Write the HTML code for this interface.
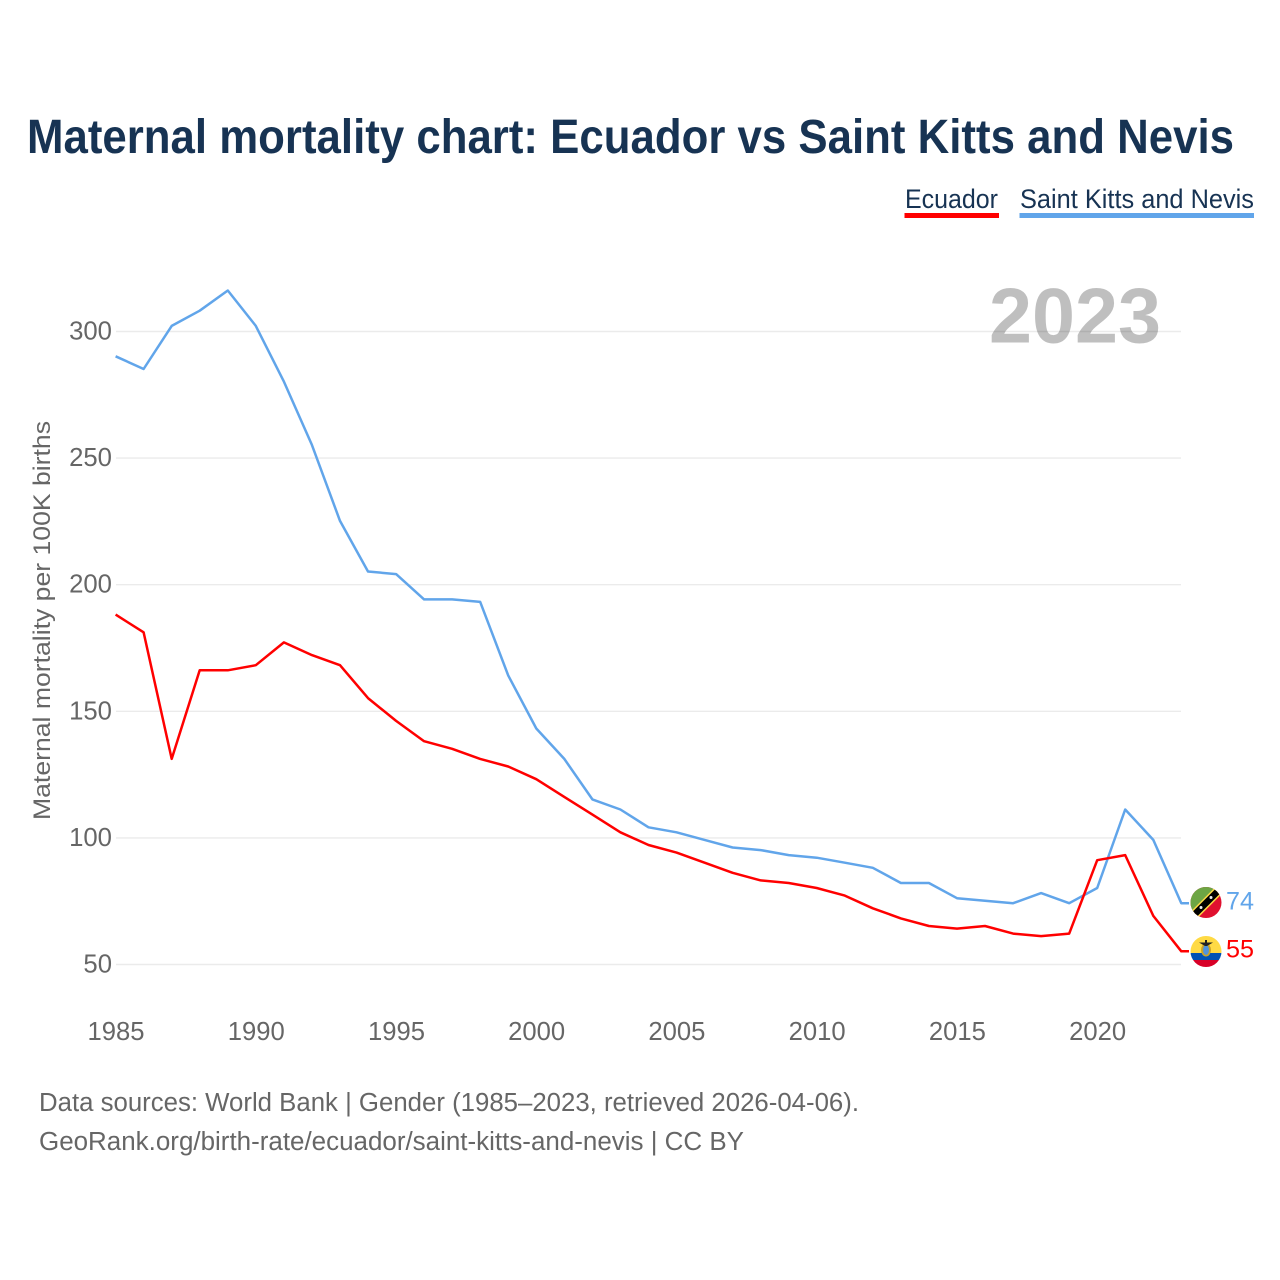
<!DOCTYPE html>
<html lang="en">
<head>
<meta charset="utf-8">
<title>Maternal mortality chart: Ecuador vs Saint Kitts and Nevis</title>
<style>
html,body{margin:0;padding:0;background:#fff;width:1280px;height:1280px;overflow:hidden}
svg{display:block}
text{font-family:"Liberation Sans",sans-serif}
</style>
</head>
<body>
<svg id="chart" xmlns="http://www.w3.org/2000/svg" width="1280" height="1280" viewBox="0 0 1280 1280">
  <rect width="1280" height="1280" fill="#fff"/>
  <text x="27" y="153" font-size="48" font-weight="700" fill="#173353" textLength="1207" lengthAdjust="spacingAndGlyphs">Maternal mortality chart: Ecuador vs Saint Kitts and Nevis</text>

  <g>
    <g>
      <text x="905" y="208" font-size="26.5" fill="#173353" textLength="93" lengthAdjust="spacingAndGlyphs">Ecuador</text>
      <rect x="904.5" y="213" width="94.5" height="5" fill="#ff0000"/>
    </g>
    <g>
      <text x="1020" y="208" font-size="26.5" fill="#173353" textLength="234" lengthAdjust="spacingAndGlyphs">Saint Kitts and Nevis</text>
      <rect x="1019.5" y="213" width="234.5" height="5" fill="#61a5ea"/>
    </g>
  </g>

  <g id="grid"></g>
  <g id="yticks"></g>
  <g id="xticks"></g>
  <text transform="translate(50,620.5) rotate(-90)" text-anchor="middle" font-size="24.5" fill="#666666" textLength="399" lengthAdjust="spacingAndGlyphs">Maternal mortality per 100K births</text>
  <g id="series"></g>

  <text x="989" y="342.5" font-size="78" font-weight="700" fill="#000" fill-opacity="0.25" textLength="172" lengthAdjust="spacingAndGlyphs">2023</text>

  <defs>
    <clipPath id="clip-kn"><circle cx="1206" cy="902.5" r="15.5"/></clipPath>
    <clipPath id="clip-ec"><circle cx="1206" cy="951.5" r="15.5"/></clipPath>
  </defs>
  <g clip-path="url(#clip-kn)">
    <rect x="1190" y="887" width="32" height="32" fill="#e0102f"/>
    <polygon points="1190,887 1222,887 1190,919" fill="#6da544"/>
    <line x1="1188" y1="921" x2="1224" y2="885" stroke="#ffda44" stroke-width="9.5"/>
    <line x1="1188" y1="921" x2="1224" y2="885" stroke="#000" stroke-width="6.5"/>
    <circle cx="1201" cy="907.5" r="1.5" fill="#eee"/>
    <circle cx="1211" cy="897.5" r="1.5" fill="#eee"/>
  </g>
  <g clip-path="url(#clip-ec)">
    <rect x="1190" y="936" width="32" height="17" fill="#ffda44"/>
    <rect x="1190" y="953" width="32" height="7" fill="#0052b4"/>
    <rect x="1190" y="960" width="32" height="8" fill="#d80027"/>
    <ellipse cx="1206" cy="950" rx="5" ry="6.5" fill="#c9a227"/>
    <ellipse cx="1206" cy="950" rx="3" ry="5" fill="#4f93dd"/>
    <polygon points="1199,942.5 1213,942.5 1207,946 1205,946" fill="#222"/>
    <rect x="1205" y="940" width="2" height="4" fill="#222"/>
  </g>
  <text id="label-kn" x="1226" y="909.5" font-size="25" fill="#61a5ea" textLength="28" lengthAdjust="spacingAndGlyphs"></text>
  <text id="label-ec" x="1226" y="957.5" font-size="25" fill="#ff0000" textLength="28" lengthAdjust="spacingAndGlyphs"></text>

  <text x="39" y="1111" font-size="25.5" fill="#666666" textLength="820" lengthAdjust="spacingAndGlyphs">Data sources: World Bank | Gender (1985–2023, retrieved 2026-04-06).</text>
  <text x="39" y="1150" font-size="25.5" fill="#666666" textLength="705" lengthAdjust="spacingAndGlyphs">GeoRank.org/birth-rate/ecuador/saint-kitts-and-nevis | CC BY</text>
</svg>
<script>
var years = [1985,1986,1987,1988,1989,1990,1991,1992,1993,1994,1995,1996,1997,1998,1999,2000,2001,2002,2003,2004,2005,2006,2007,2008,2009,2010,2011,2012,2013,2014,2015,2016,2017,2018,2019,2020,2021,2022,2023];
var ecuadorValues = [188,181,131,166,166,168,177,172,168,155,146,138,135,131,128,123,116,109,102,97,94,90,86,83,82,80,77,72,68,65,64,65,62,61,62,91,93,69,55];
var kittsValues = [290,285,302,308,316,302,280,255,225,205,204,194,194,193,164,143,131,115,111,104,102,99,96,95,93,92,90,88,82,82,76,75,74,78,74,80,111,99,74];
var yTickValues = [50,100,150,200,250,300];
var xTickValues = [1985,1990,1995,2000,2005,2010,2015,2020];

var NS = 'http://www.w3.org/2000/svg';
function xScale(year){ return 115.6 + (year - 1985) * (1097.2 - 115.6) / 35; }
function yScale(value){ return 964.5 - (value - 50) * (964.5 - 331.5) / 250; }
function make(tag, attrs, parent){
  var el = document.createElementNS(NS, tag);
  for (var k in attrs) el.setAttribute(k, attrs[k]);
  parent.appendChild(el);
  return el;
}

var grid = document.getElementById('grid');
var yticks = document.getElementById('yticks');
yTickValues.forEach(function(v){
  var line = make('line', {x1:116, x2:1181, y1:yScale(v), y2:yScale(v), stroke:'#ebebeb', 'stroke-width':1.4}, grid);
  
  
  var s = String(v);
  var t = make('text', {x:112, y:yScale(v)+8, 'text-anchor':'end', 'font-size':26, fill:'#666666', textLength:s.length*14.3, lengthAdjust:'spacingAndGlyphs'}, yticks);
  
  
  t.textContent = s;
});

var xticks = document.getElementById('xticks');
xTickValues.forEach(function(v){
  var t = make('text', {x:xScale(v)+0.4, y:1040, 'text-anchor':'middle', 'font-size':26, fill:'#666666', textLength:57, lengthAdjust:'spacingAndGlyphs'}, xticks);
  
  
  t.textContent = String(v);
});

var series = document.getElementById('series');
function drawSeries(values, color, name){
  var pts = values.map(function(v,i){ return xScale(years[i]).toFixed(1) + ',' + (yScale(v)-0.5).toFixed(1); });
  var lastY = (yScale(values[values.length-1])-0.5).toFixed(1);
  pts.push('1189,' + lastY);
  var line = make('polyline', {points:pts.join(' '), fill:'none', stroke:color, 'stroke-width':2.5, 'stroke-linejoin':'round'}, series);
  
  
}
drawSeries(kittsValues, '#61a5ea', 'line-saint-kitts-and-nevis');
drawSeries(ecuadorValues, '#ff0000', 'line-ecuador');

document.getElementById('label-kn').textContent = String(kittsValues[kittsValues.length-1]);
document.getElementById('label-ec').textContent = String(ecuadorValues[ecuadorValues.length-1]);
</script>
</body>
</html>
